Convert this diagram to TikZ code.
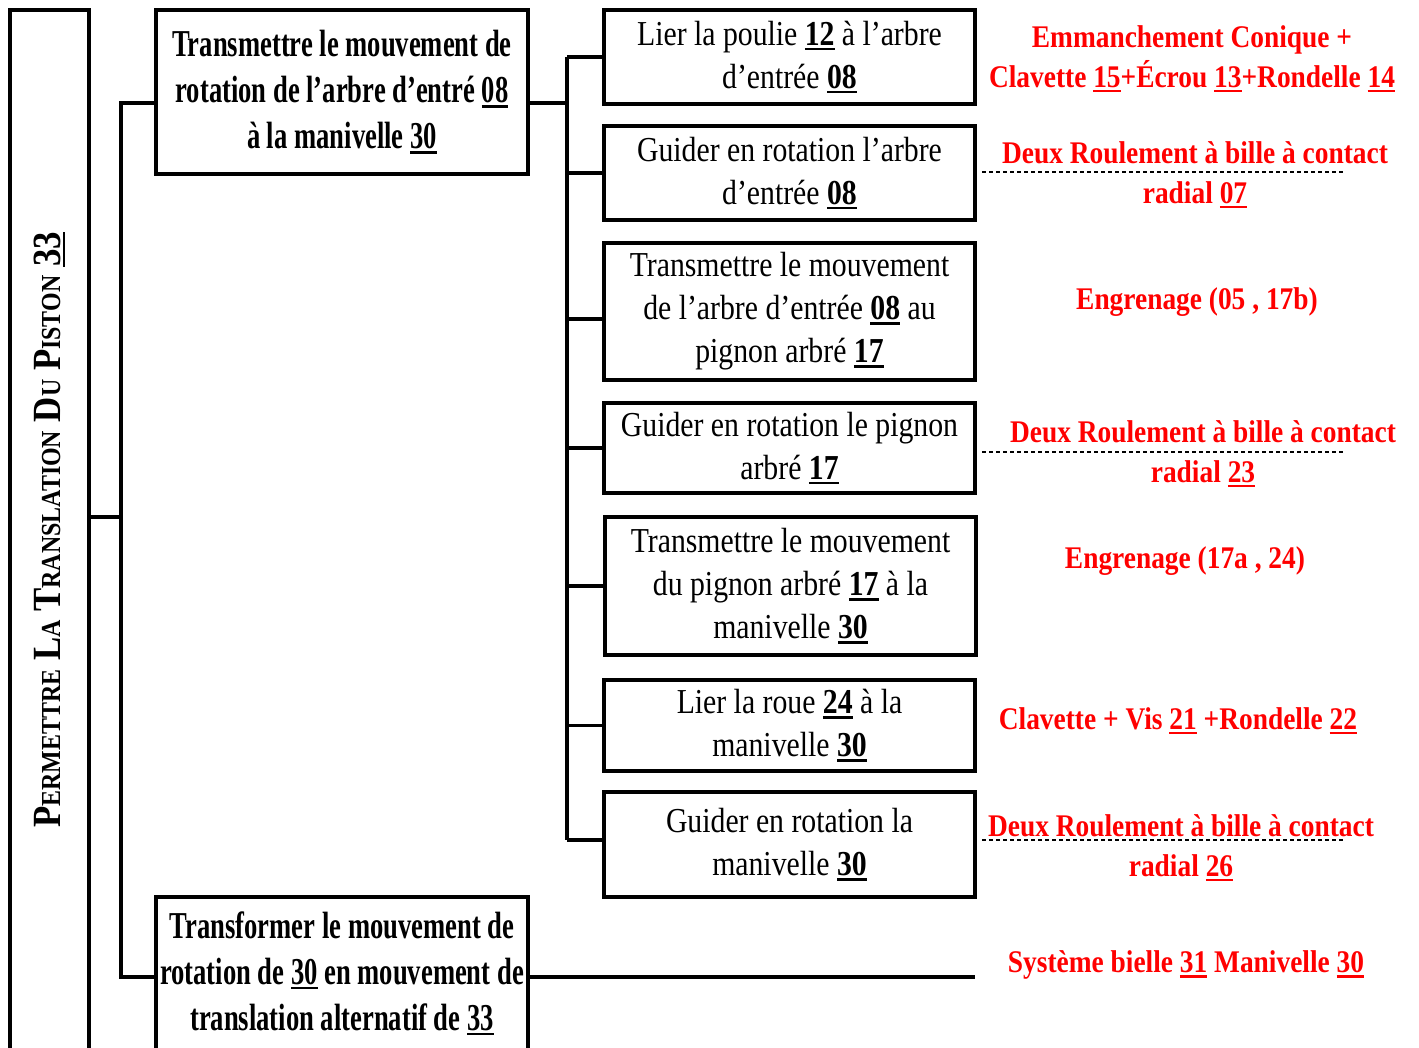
\documentclass[tikz,border=0pt]{standalone}
\usepackage{fontspec}
\newfontfamily\fA[FakeStretch=0.70]{Liberation Serif}
\newfontfamily\fR[FakeStretch=0.85]{Liberation Serif}
\newfontfamily\fRed[FakeStretch=0.87]{Liberation Serif}
\newfontfamily\fL[FakeStretch=0.87]{Liberation Serif}
\newcommand\ulx[1]{\setbox0\hbox{#1}\rlap{\rule[-5pt]{\wd0}{2.6pt}}\box0\relax}
\newcommand\ulb[1]{\ulx{\bfseries #1}}
\newcommand\sca[2]{{\fontsize{40}{40}\selectfont #1}{\fontsize{27.5}{30}\selectfont #2}}
\begin{document}
\begin{tikzpicture}[x=1pt,y=-1pt,
  frame/.style={draw, line width=3.2pt, inner sep=0pt, align=center},
  bigbox/.style={frame, minimum width=372pt, font=\fA\bfseries\fontsize{38}{46}\selectfont},
  fbox/.style={frame, minimum width=371pt, font=\fR\fontsize{35}{43}\selectfont},
  conn/.style={line width=3.2pt},
  lab/.style={text=red, inner sep=0pt, align=center, font=\fRed\bfseries\fontsize{31.5}{39.5}\selectfont},
  dline/.style={line width=1.3pt, dash pattern=on 4pt off 3pt}
]
\useasboundingbox (0,0) rectangle (1419,1048);

% left frame
\node[frame, minimum width=79pt, minimum height=1040pt] (L) at (49.5,530) {};
\node[rotate=90, inner sep=0pt, font=\fL\bfseries\fontsize{40}{48}\selectfont] (Lt) at (L.center)
  {\sca{P}{ERMETTRE} \sca{L}{A} \sca{T}{RANSLATION} \sca{D}{U} \sca{P}{ISTON} \ulx{33}};

% second level
\node[bigbox, minimum height=164pt] (A) at (342,92)
  {Transmettre le mouvement de\\rotation de l’arbre d’entré \ulx{08}\\à la manivelle \ulx{30}};
\node[bigbox, minimum height=153pt] (B) at (342,973.5)
  {Transformer le mouvement de\\rotation de \ulx{30} en mouvement de\\translation alternatif de \ulx{33}};

% third level
\node[fbox, minimum height=94pt] (R1) at (789.5,57)
  {Lier la poulie \ulb{12} à l’arbre\\d’entrée \ulb{08}};
\node[fbox, minimum height=94pt] (R2) at (789.5,173)
  {Guider en rotation l’arbre\\d’entrée \ulb{08}};
\node[fbox, minimum height=137pt] (R3) at (789.5,311.5)
  {Transmettre le mouvement\\de l’arbre d’entrée \ulb{08} au\\pignon arbré \ulb{17}};
\node[fbox, minimum height=90pt] (R4) at (789.5,448)
  {Guider en rotation le pignon\\arbré \ulb{17}};
\node[fbox, minimum height=138pt] (R5) at (790.5,586)
  {Transmettre le mouvement\\du pignon arbré \ulb{17} à la\\manivelle \ulb{30}};
\node[fbox, minimum height=91pt] (R6) at (789.5,725.5)
  {Lier la roue \ulb{24} à la\\manivelle \ulb{30}};
\node[fbox, minimum height=105pt] (R7) at (789.5,844.5)
  {Guider en rotation la\\manivelle \ulb{30}};

% connectors
\coordinate (J) at (121,517);
\coordinate (K) at (567,103);
\coordinate (E) at (975,977);
\coordinate (A1) at ([yshift=-11pt]A.west);
\coordinate (A2) at ([yshift=-11pt]A.east);
\coordinate (B1) at ([yshift=-3.5pt]B.west);
\coordinate (B2) at ([yshift=-3.5pt]B.east);
\coordinate (R3c) at ([yshift=-7.5pt]R3.west);
\coordinate (R7c) at ([yshift=4.5pt]R7.west);
\draw[conn] (A1) -| (J) |- (B1);
\draw[conn] (J) -- (J -| L.east);
\draw[conn] (A2) -- (K);
\draw[conn] (K |- R1.west) -- (K |- R7c);
\draw[conn] (R1.west) -- (R1.west -| K);
\draw[conn] (R2.west) -- (R2.west -| K);
\draw[conn] (R3c) -- (R3c -| K);
\draw[conn] (R4.west) -- (R4.west -| K);
\draw[conn] (R5.west) -- (R5.west -| K);
\draw[conn] (R6.west) -- (R6.west -| K);
\draw[conn] (R7c) -- (R7c -| K);
\draw[conn] (B2) -- (E);

% solutions
\node[lab] (S1) at (1192,59) {Emmanchement Conique +\\Clavette \ulx{15}+Écrou \ulx{13}+Rondelle \ulx{14}};
\node[lab] (S2) at (1195,175) {Deux Roulement à bille à contact\\radial \ulx{07}};
\node[lab] (S3) at (1197,302) {Engrenage (05 , 17b)};
\node[lab] (S4) at (1203,454) {Deux Roulement à bille à contact\\radial \ulx{23}};
\node[lab] (S5) at (1185,561) {Engrenage (17a , 24)};
\node[lab] (S6) at (1178,721) {Clavette + Vis \ulx{21} +Rondelle \ulx{22}};
\node[lab] (S7) at (1181,848) {Deux Roulement à bille à contact\\radial \ulx{26}};
\node[lab] (S8) at (1186,965) {Système bielle \ulx{31} Manivelle \ulx{30}};

% dashed separators
\coordinate (D1a) at (982,172); \coordinate (D1b) at (1345,172);
\coordinate (D2a) at (982,452); \coordinate (D2b) at (1345,452);
\coordinate (D3a) at (982,840); \coordinate (D3b) at (1345,840);
\draw[dline] (D1a) -- (D1b);
\draw[dline] (D2a) -- (D2b);
\draw[dline] (D3a) -- (D3b);
\end{tikzpicture}
\end{document}
